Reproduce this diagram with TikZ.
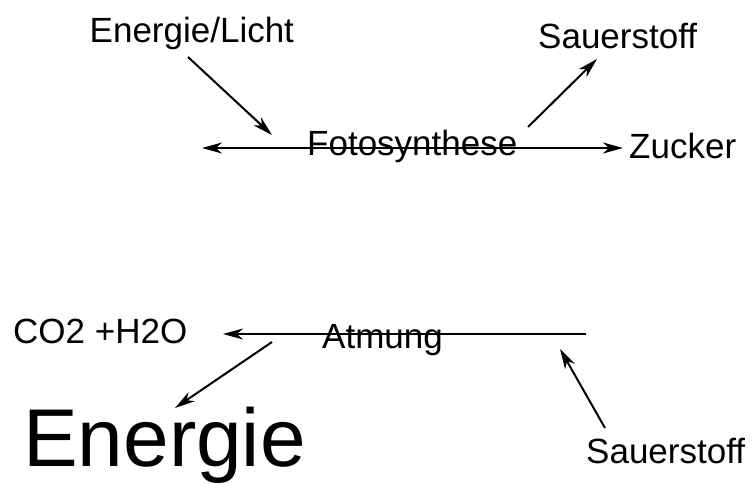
\documentclass[tikz,border=0pt]{standalone}
\usepackage{fontspec}
\setmainfont{Liberation Sans}
\usetikzlibrary{arrows.meta}

\begin{document}
\begin{tikzpicture}
    [x=1pt,y=-1pt,every node/.style={inner sep=0pt,anchor=base west,font=\fontsize{35}{40}\selectfont},
     pfeil/.style={line width=2pt,-{Stealth[length=20pt,width=11pt,inset=6pt]}},
     doppelpfeil/.style={line width=2pt,{Stealth[length=20pt,width=11pt,inset=6pt]}-{Stealth[length=20pt,width=11pt,inset=6pt]}}]
    \useasboundingbox (0,0) rectangle (752,484);
    % Fotosynthese
    \node (licht) at (89.5,43) {Energie/Licht};
    \node (sauer1) at (538,49) {Sauerstoff};
    \node (foto) at (307,155) {Fotosynthese};
    \node (zucker) at (629,158) {Zucker};
    \coordinate (fl) at (202,148);
    \coordinate (fr) at (623,148);
    \coordinate (l1) at (188,57);
    \coordinate (l2) at (272,135);
    \coordinate (s1) at (528,127);
    \coordinate (s2) at (597,59);
    \draw[doppelpfeil] (fl) -- (fr) ;
    \draw[pfeil] (l1) -- (l2) ;
    \draw[pfeil] (s1) -- (s2) ;
    % Atmung
    \node (co2) at (13,343) {CO2 +H2O};
    \node (atmung) at (322,348) {Atmung};
    \node[font=\fontsize{82}{90}\selectfont] (energie) at (23,466) {Energie};
    \node (sauer2) at (586,463) {Sauerstoff};
    \coordinate (al) at (223,334);
    \coordinate (ar) at (586,334);
    \coordinate (e1) at (272,342);
    \coordinate (e2) at (175,408);
    \coordinate (o1) at (605,428);
    \coordinate (o2) at (560,349);
    \draw[pfeil] (ar) -- (al) ;
    \draw[pfeil] (e1) -- (e2) ;
    \draw[pfeil] (o1) -- (o2) ;
\end{tikzpicture}
\end{document}
